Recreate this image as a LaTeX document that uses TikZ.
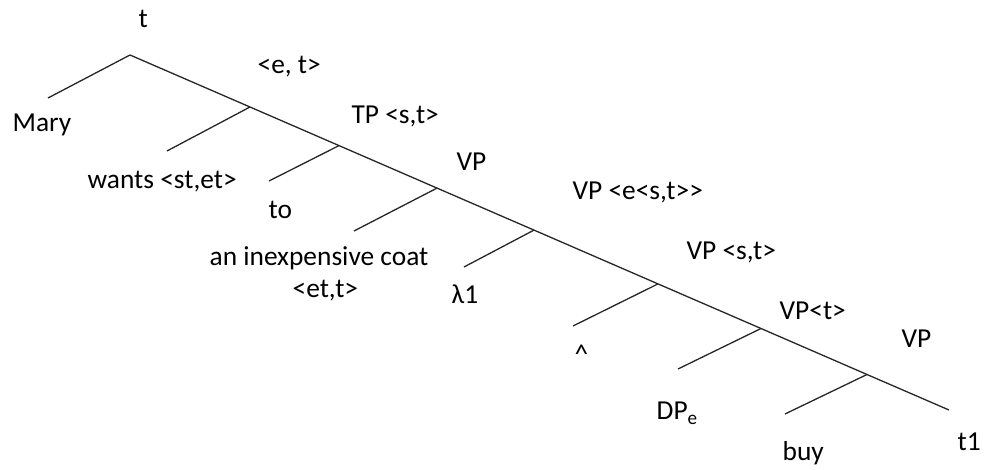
\documentclass[tikz,border=0pt]{standalone}
\usepackage{fontspec}
\setmainfont{Carlito}
\usetikzlibrary{positioning}

\begin{document}
\begin{tikzpicture}[x=0.5pt,y=-0.5pt,line width=0.65pt,draw=black!85,
  lbl/.style={anchor=base west,inner sep=0pt,font=\fontsize{13.7}{16}\selectfont}]
  \useasboundingbox (0,0) rectangle (987,470);
  % spine
  \coordinate (n0) at (130,55);
  \coordinate (n1) at (250,107.0);
  \coordinate (n2) at (339,145.6);
  \coordinate (n3) at (437,188.1);
  \coordinate (n4) at (534,230.1);
  \coordinate (n5) at (658,283.9);
  \coordinate (n6) at (761,328.5);
  \coordinate (n7) at (867,374.5);
  \coordinate (n8) at (949,410);
  % left daughters
  \coordinate (b0) at (48,98);
  \coordinate (b1) at (167,151);
  \coordinate (b2) at (269,181);
  \coordinate (b3) at (354,231);
  \coordinate (b4) at (464,267);
  \coordinate (b5) at (573,326);
  \coordinate (b6) at (678,369);
  \coordinate (b7) at (785,414);

  \draw (n0) -- (n1) -- (n2) -- (n3) -- (n4) -- (n5) -- (n6) -- (n7) -- (n8);
  \draw (n0) -- (b0);
  \draw (n1) -- (b1);
  \draw (n2) -- (b2);
  \draw (n3) -- (b3);
  \draw (n4) -- (b4);
  \draw (n5) -- (b5);
  \draw (n6) -- (b6);
  \draw (n7) -- (b7);

  % labels
  \node[lbl] (root)  at (138,28)  {t};
  \node[lbl] (et)    at (257,74)  {<e, t>};
  \node[lbl] (mary)  at (12,132)  {Mary};
  \node[lbl] (tp)    at (351,124) {TP <s,t>};
  \node[lbl] (vpa)   at (456,171) {VP};
  \node[lbl] (vpb)   at (572,200) {VP <e<s,t>{}>};
  \node[lbl] (wants) at (87,189)  {wants <st,et>};
  \node[lbl] (to)    at (268,219) {to};
  \node[lbl] (coat)  at (209,266) {an inexpensive coat};
  \node[lbl] (ett)   at (292,298) {<et,t>};
  \node[lbl] (lam)   at (451,304) {λ1};
  \node[lbl] (vpc)   at (686,260) {VP <s,t>};
  \node[lbl] (hat)   at (574,364) {\^{}};
  \node[lbl] (vpd)   at (779,320) {VP<t>};
  \node[lbl] (vpe)   at (901,348) {VP};
  \node[lbl] (dp)    at (656,420) {DP\textsubscript{e}};
  \node[lbl] (buy)   at (782,461) {buy};
  \node[lbl] (tr)    at (957,451) {t1};
\end{tikzpicture}
\end{document}
